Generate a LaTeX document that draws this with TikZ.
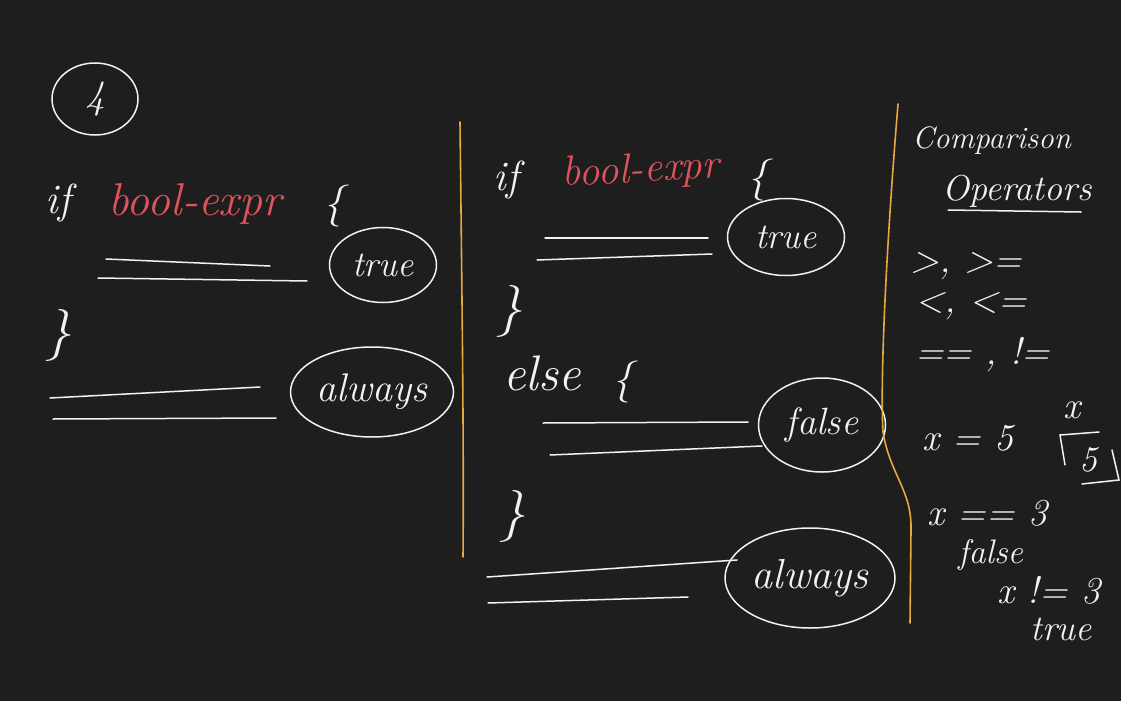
\documentclass[tikz,border=0pt]{standalone}
\usetikzlibrary{shapes.geometric}
\definecolor{board}{HTML}{1E1E1E}
\definecolor{chalk}{HTML}{F2F2F2}
\definecolor{exprred}{HTML}{E0525E}
\definecolor{divider}{HTML}{E8A93C}
\newcommand{\handfont}[1]{\fontsize{#1}{#1}\selectfont\itshape}
\begin{document}
\begin{tikzpicture}[x=1pt, y=-1pt, thick]
  % Define styles
  \tikzstyle{word} = [inner sep=0pt, text=chalk, anchor=base west, font=\handfont{42}]
  \tikzstyle{expr} = [word, text=exprred, font=\handfont{44}]
  \tikzstyle{oval} = [ellipse, draw=chalk, line width=1.5pt, inner sep=0pt, text=chalk, font=\handfont{36}]
  \tikzstyle{stroke} = [chalk, line width=1.5pt, line cap=round]
  \tikzstyle{rule} = [divider, line width=1.6pt, line cap=round]

  % Board
  \fill[board] (0,0) rectangle (1121,701);
  \useasboundingbox (0,0) rectangle (1121,701);

  % Left panel: if block
  \node[oval, minimum width=86, minimum height=72, font=\handfont{40}] (num) at (95,99) {4};
  \node[word] (ifa) at (45,213) {if};
  \node[expr, font=\handfont{46}] (expra) at (108,215) {bool-expr};
  \node[word] (opena) at (323,216) {\{};
  \draw[stroke] (106,259) -- (270,266);
  \draw[stroke] (98,278) -- (307,281);
  \node[oval, minimum width=107, minimum height=75] (truea) at (383,265) {true};
  \node[word, font=\handfont{52}, anchor=center] (closea) at (58,335) {\}};
  \draw[stroke] (50,398) -- (260,387);
  \draw[stroke] (53,419) -- (276,418);
  \node[oval, minimum width=163, minimum height=90, font=\handfont{40}] (alwaysa) at (372,392) {always};

  % Divider 1
  \draw[rule] (460,122) .. controls (462,300) and (464,450) .. (463,557);

  % Middle panel: if / else block
  \node[word] (ifb) at (493,190) {if};
  \node[expr, font=\handfont{42}, rotate=3] (exprb) at (562,186) {bool-expr};
  \node[word] (openb) at (747,190) {\{};
  \draw[stroke] (545,238) -- (708,238);
  \draw[stroke] (537,260) -- (712,254);
  \node[oval, minimum width=117, minimum height=77] (trueb) at (786,237) {true};
  \node[word, font=\handfont{52}, anchor=center] (closeb) at (509,311) {\}};
  \node[word, font=\handfont{50}] (elseb) at (503,390) {else};
  \node[word] (opene) at (612,392) {\{};
  \draw[stroke] (543,423) -- (748,422);
  \draw[stroke] (550,455) -- (762,446);
  \node[oval, minimum width=127, minimum height=94, font=\handfont{38}] (falseb) at (822,425) {false};
  \node[word, font=\handfont{52}, anchor=center] (closee) at (512,516) {\}};
  \draw[stroke] (487,577) -- (737,560);
  \draw[stroke] (488,603) -- (688,597);
  \node[oval, minimum width=170, minimum height=100, font=\handfont{42}] (alwaysb) at (810,578) {always};

  % Divider 2
  \draw[rule] (898,104) .. controls (886,250) and (880,380) .. (883,432)
    .. controls (890,475) and (912,490) .. (911,530) -- (910,623);

  % Right panel: comparison operators
  \node[word, font=\handfont{31}] (comp) at (912,148) {Comparison};
  \node[word, font=\handfont{36}] (oper) at (942,200) {Operators};
  \draw[stroke] (948,210) -- (1081,212);
  \node[word, font=\handfont{38}] (gt) at (910,272) {>,\ >=};
  \node[word, font=\handfont{38}] (lt) at (915,312) {<,\ <=};
  \node[word, font=\handfont{38}] (eq) at (915,364) {==\ ,\ !=};
  \node[word, font=\handfont{38}] (assign) at (922,450) {x = 5};
  \node[word, font=\handfont{38}] (var) at (1063,418) {x};
  \node[word, font=\handfont{36}, anchor=center] (five) at (1088,460) {5};
  \draw[stroke] (1065,465) -- (1060,435) -- (1099,432);
  \draw[stroke] (1112,450) -- (1119,480) -- (1082,484);
  \node[word, font=\handfont{38}] (cmpeq) at (927,525) {x == 3};
  \node[word, font=\handfont{34}] (resf) at (958,563) {false};
  \node[word, font=\handfont{38}] (cmpne) at (997,603) {x != 3};
  \node[word, font=\handfont{36}] (rest) at (1030,640) {true};

\end{tikzpicture}
\end{document}
